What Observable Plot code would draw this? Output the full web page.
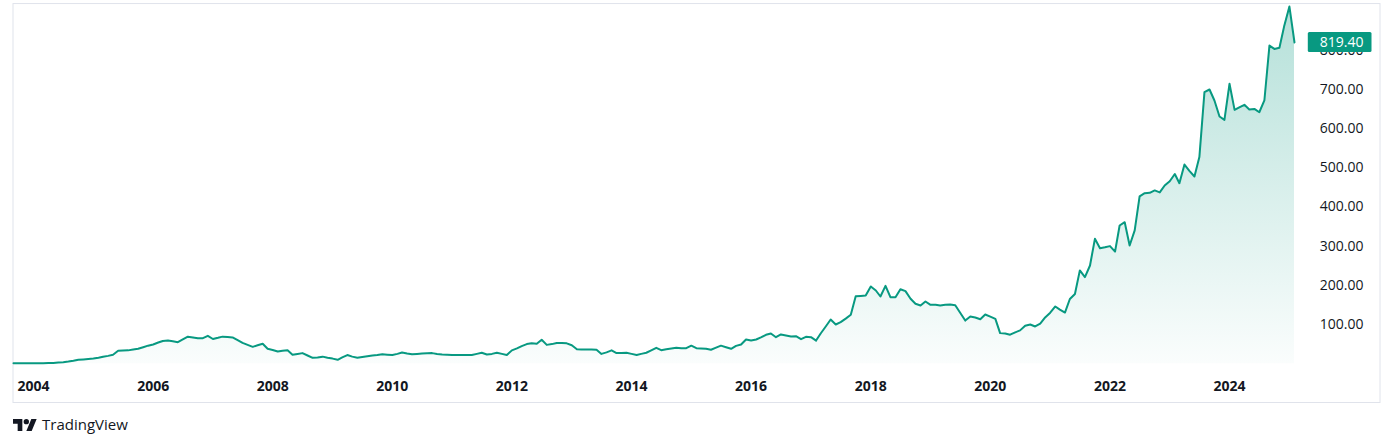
<!DOCTYPE html>
<html><head><meta charset="utf-8">
<script src="https://cdn.jsdelivr.net/npm/d3@7"></script>
<script src="https://cdn.jsdelivr.net/npm/@observablehq/plot@0.6"></script>
<style>
html,body{margin:0;padding:0;background:#fff;}
#wrap{position:relative;width:1392px;height:447px;overflow:hidden;background:#fff;}
#chart{position:absolute;left:0;top:0;}
#logo{position:absolute;left:13px;top:419px;}
#brandText{position:absolute;left:42px;top:417px;font-family:'Open Sans',sans-serif;font-size:15px;line-height:15px;color:#131722;white-space:nowrap;}
</style></head><body>
<div id="wrap">
  <div id="chart"></div>
  <svg id="logo" width="24" height="12" viewBox="0 4 36 18"><path d="M14 22H7V11H0V4h14v18zM28 22h-8l7.5-18h8L28 22z" fill="#131722"/><circle cx="20" cy="8" r="4" fill="#131722"/></svg>
  <div id="brandText">TradingView</div>
</div>
<script>
// Monthly closing values, starting September 2003
const startMonth = "2003-09-01";
const v2003 = [1.3, 1.2, 1.1, 1.0];
const v2004 = [1.0, 1.0, 1.2, 1.5, 2.0, 3.0, 4.0, 5.5, 7.5, 10, 11, 12];
const v2005 = [13, 15, 17.5, 20, 23, 33, 33.5, 34, 36, 38, 42, 46];
const v2006 = [49, 54, 58, 59, 57, 55, 62, 69, 67, 65, 65, 71];
const v2007 = [63, 66, 69, 68, 67, 60, 53, 48, 43, 47, 51, 38];
const v2008 = [35, 31, 33, 34, 23, 25, 27, 21, 15, 16, 18, 15];
const v2009 = [13, 10, 16, 22, 18, 15, 17, 19, 21, 22, 24, 23];
const v2010 = [22, 25, 28.5, 26, 24, 25, 26, 26.5, 27, 25, 23.5, 23];
const v2011 = [22.5, 22, 22, 22, 22, 25, 28, 23.5, 25, 28, 25, 22];
const v2012 = [34, 39, 45, 50, 52, 51, 61, 48, 50, 53, 53, 52];
const v2013 = [47, 37, 36, 36, 36, 35.5, 25, 29, 34, 27, 27, 28];
const v2014 = [25, 22, 25, 28, 34, 40.5, 34.5, 37, 39, 40.5, 39.5, 39.5];
const v2015 = [46, 39.5, 39, 38, 35.5, 41, 46, 42, 38, 45.5, 49, 61.7];
const v2016 = [59, 61.7, 67, 73.7, 77, 67.6, 74.5, 72, 69.4, 70.2, 62.6, 68.6];
const v2017 = [67.6, 59, 77, 95, 112.7, 100, 106, 115, 124.7, 172, 173, 174];
const v2018 = [197, 186.7, 171.4, 198.7, 169.6, 169.6, 190, 185, 165.6, 152.8, 148.5, 158.7];
const v2019 = [150.2, 150.2, 148.5, 150.2, 151, 149.2, 130, 110, 120.4, 118, 113.5, 125.5];
const v2020 = [120, 114.5, 78, 77, 74, 80, 85, 97, 100, 95, 102, 118];
const v2021 = [130, 146, 138, 130.5, 165, 178, 238, 221, 250.5, 318.5, 294.5, 297];
const v2022 = [300, 286, 352.5, 361, 301.5, 340, 427, 435, 436, 442, 437, 454.5];
const v2023 = [465.5, 484, 460.5, 508, 492, 477.5, 527, 692.5, 699.5, 671.5, 630.5, 622];
const v2024 = [714, 647.5, 654, 660.5, 648.5, 650, 641.5, 671.5, 811.5, 803, 806, 863];
const v2025 = [911, 819.4];

const lastPrice = 819.40;
const yTicks = [100, 200, 300, 400, 500, 600, 700, 800];
const xTickYears = [2004, 2006, 2008, 2010, 2012, 2014, 2016, 2018, 2020, 2022, 2024];

const values = [].concat(v2003, v2004, v2005, v2006, v2007, v2008, v2009, v2010, v2011,
  v2012, v2013, v2014, v2015, v2016, v2017, v2018, v2019, v2020, v2021, v2022, v2023, v2024, v2025);
const start = new Date(startMonth);
const data = values.map((v, i) => ({date: d3.utcMonth.offset(start, i), value: v}));

const ns = "http://www.w3.org/2000/svg";
const green = "#089981";

const chart = Plot.plot({
  width: 1392,
  height: 405,
  marginLeft: 13,
  marginRight: 98,
  marginTop: 2.56,
  marginBottom: 41.8,
  style: {fontFamily: "'Open Sans', sans-serif", fontSize: "14px", color: "#131722", background: "#fff", overflow: "visible"},
  x: {type: "utc", domain: [data[0].date, data[data.length - 1].date], label: null},
  y: {domain: [0, 920], label: null},
  marks: [
    () => {
      const defs = document.createElementNS(ns, "defs");
      defs.innerHTML = `<linearGradient id="areaGrad" x1="0" y1="0" x2="0" y2="1">
        <stop offset="0" stop-color="${green}" stop-opacity="0.3"/>
        <stop offset="1" stop-color="${green}" stop-opacity="0.02"/></linearGradient>`;
      return defs;
    },
    Plot.frame({stroke: "#e0e3eb", insetLeft: -0.5, insetRight: -85.5, insetTop: 0.5, insetBottom: -38.8}),
    Plot.areaY(data, {x: "date", y: "value", fill: "url(#areaGrad)"}),
    Plot.lineY(data, {x: "date", y: "value", stroke: green, strokeWidth: 2}),
    Plot.axisX({
      ticks: xTickYears.map(y => new Date(Date.UTC(y, 0, 1))),
      tickFormat: d3.utcFormat("%Y"), label: null,
      tickSize: 0, tickPadding: 17, fontWeight: "bold", fontSize: 14
    }),
    Plot.axisY({
      anchor: "right", ticks: yTicks, tickFormat: d => d.toFixed(2), label: null,
      tickSize: 0, tickPadding: 69, textAnchor: "end", fontSize: 14
    }),
    Plot.text([lastPrice], {
      y: d => d, frameAnchor: "right", dx: 69, textAnchor: "end",
      text: d => d.toFixed(2), fill: "#fff", fontSize: 14
    })
  ]
});
document.getElementById("chart").append(chart);

// green price badge behind the last-price label
const label = [...chart.querySelectorAll("text")].find(t => t.textContent === lastPrice.toFixed(2));
if (label) {
  const svgBox = chart.getBoundingClientRect();
  const b = label.getBoundingClientRect();
  const cy = chart.scale("y").apply(lastPrice);
  const r = document.createElementNS(ns, "rect");
  r.setAttribute("x", b.left - svgBox.left - 12);
  r.setAttribute("y", cy - 10);
  r.setAttribute("width", b.width + 20);
  r.setAttribute("height", 20);
  r.setAttribute("rx", 1.5);
  r.setAttribute("fill", green);
  const grp = label.closest("g");
  grp.parentNode.insertBefore(r, grp);
}
</script>
</body></html>
